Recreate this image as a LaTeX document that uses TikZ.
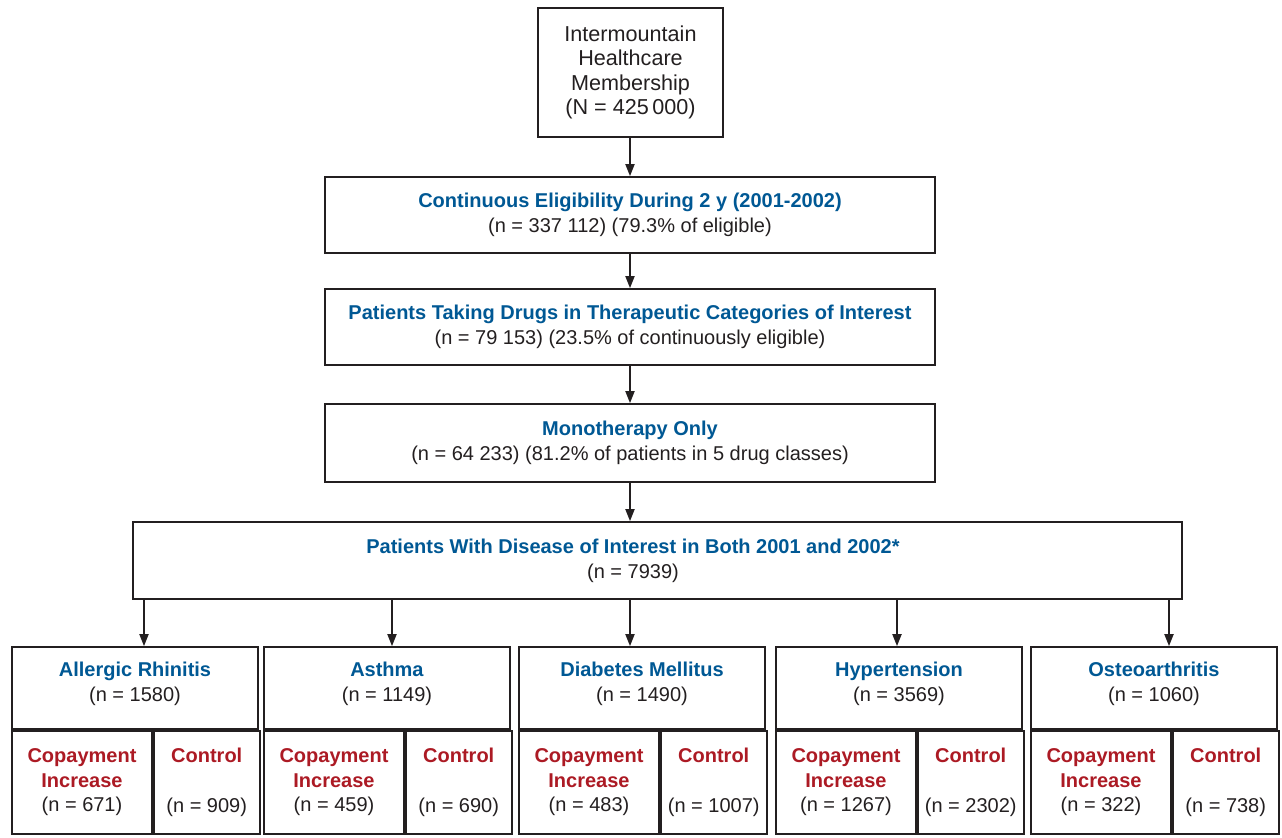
\documentclass[tikz,border=0pt]{standalone}
\usepackage{fontspec}
\setmainfont{Liberation Sans}
\usepackage{xcolor}
\usetikzlibrary{arrows.meta}

\definecolor{ink}{RGB}{35,31,32}
\definecolor{hdblue}{RGB}{0,88,148}
\definecolor{grpred}{RGB}{172,26,36}

\tikzset{
  box/.style={draw=ink,line width=1.3pt,inner sep=0pt,align=center,text=ink,font=\fontsize{15}{18.6}\selectfont},
  txt/.style={inner sep=0pt,align=center,text=ink,font=\fontsize{15}{18.6}\selectfont},
  arr/.style={draw=ink,line width=1.3pt,-{Triangle[length=9pt,width=6.8pt]}},
}

\newcommand{\bt}[1]{\textcolor{hdblue}{\textbf{#1}}}
\newcommand{\rt}[1]{\textcolor{grpred}{\textbf{#1}}}

\begin{document}
\begin{tikzpicture}[x=0.75pt,y=0.75pt,yscale=-1,xscale=1]

\useasboundingbox (0,0) rectangle (1282,838);

\node[box,minimum width=138.75pt,minimum height=96.75pt,font=\fontsize{16.2}{18.4}\selectfont] (mem) at (630.5,72.5) {Intermountain\\Healthcare\\Membership\\(N = 425\,000)};

\node[box,minimum width=457.5pt,minimum height=57pt] (elig) at (630,215) {\bt{Continuous Eligibility During 2 y (2001-2002)}\\(n = 337 112) (79.3\% of eligible)};

\node[box,minimum width=457.5pt,minimum height=57pt] (drug) at (630,327) {\bt{Patients Taking Drugs in Therapeutic Categories of Interest}\\(n = 79 153) (23.5\% of continuously eligible)};

\node[box,minimum width=457.5pt,minimum height=58.5pt] (mono) at (630,443) {\bt{Monotherapy Only}\\(n = 64 233) (81.2\% of patients in 5 drug classes)};

\node[box,minimum width=786.75pt,minimum height=57.75pt] (pop) at (657.5,560.5) {};

\node[txt] (poptxt) at (633,561) {\bt{Patients With Disease of Interest in Both 2001 and 2002*}\\(n = 7939)};

\draw[arr] (mem.south -| elig) -- (elig.north);

\draw[arr] (elig) -- (drug);

\draw[arr] (drug) -- (mono);

\draw[arr] (mono.south) -- (mono.south |- pop.north);

\foreach \xl/\ax/\dis/\n/\cpn/\ctn [count=\i] in {12/144/Allergic Rhinitis/1580/671/909,264/392/Asthma/1149/459/690,519/630/Diabetes Mellitus/1490/483/1007,776/897/Hypertension/3569/1267/2302,1031/1169/Osteoarthritis/1060/322/738}{

  \node[box,minimum width=184.5pt,minimum height=61.5pt] (hd\i) at ({\xl+123},688) {};

  \node[txt] (hdt\i) at ({\xl+123},683.5) {\bt{\dis}\\(n = \n)};

  \node[box,minimum width=105pt,minimum height=77.25pt,anchor=north west] (cp\i) at (hd\i.south west) {\rt{Copayment}\\\rt{Increase}\\(n = \cpn)};

  \node[box,minimum width=79.5pt,minimum height=77.25pt,anchor=north west] (ct\i) at (cp\i.north east) {\rt{Control}\\\mbox{}\\(n = \ctn)};

  \coordinate (ar\i) at (\ax,0);

  \draw[arr] (ar\i |- pop.south) -- (ar\i |- hd\i.north);
}

\end{tikzpicture}
\end{document}
